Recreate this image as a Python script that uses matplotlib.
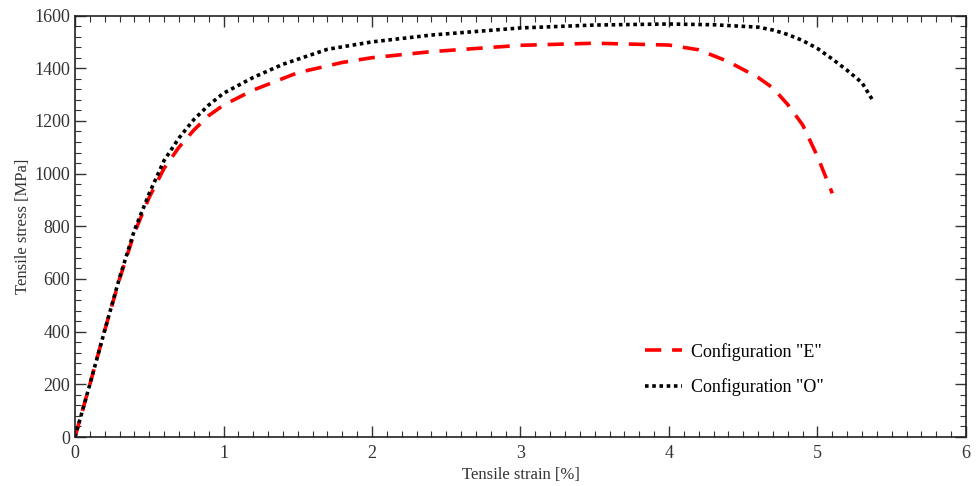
import matplotlib
matplotlib.use('Agg')
import matplotlib.pyplot as plt
from matplotlib.ticker import MultipleLocator

plt.rcParams['font.family'] = 'Liberation Serif'

# Configuration "E"
strain_e = [0, 0.1, 0.2, 0.3, 0.4, 0.5, 0.6, 0.7, 0.8, 0.9, 1.0, 1.2, 1.5, 1.8,
            2.0, 2.4, 3.0, 3.5, 4.0, 4.2, 4.4, 4.6, 4.7, 4.8, 4.9, 5.0, 5.1]
stress_e = [0, 200, 405, 600, 775, 910, 1020, 1100, 1165, 1220, 1260, 1317, 1383, 1422,
            1440, 1463, 1487, 1495, 1488, 1470, 1425, 1365, 1325, 1262, 1185, 1065, 925]

# Configuration "O"
strain_o = [0, 0.1, 0.2, 0.3, 0.4, 0.5, 0.6, 0.7, 0.8, 0.9, 1.0, 1.2, 1.4, 1.7,
            2.0, 2.4, 3.0, 3.5, 4.0, 4.3, 4.6, 4.7, 4.8, 4.9, 5.0, 5.1, 5.2, 5.3, 5.37]
stress_o = [0, 200, 405, 605, 785, 925, 1050, 1135, 1205, 1260, 1305, 1365, 1415, 1472,
            1500, 1526, 1553, 1564, 1568, 1565, 1556, 1545, 1528, 1505, 1475, 1435,
            1392, 1345, 1280]

fig = plt.figure(figsize=(9.78, 4.86), dpi=100)
ax = fig.add_axes([0.0767, 0.1008, 0.911, 0.8672])

ax.plot(strain_e, stress_e, c='red', lw=2.6, ls=(0, (4.5, 3)), label='Configuration "E"')
ax.plot(strain_o, stress_o, c='black', lw=2.6, ls=(0, (1, 1)), label='Configuration "O"')

ax.set_xlim(0, 6)
ax.set_ylim(0, 1600)
ax.xaxis.set_major_locator(MultipleLocator(1))
ax.xaxis.set_minor_locator(MultipleLocator(0.1))
ax.yaxis.set_major_locator(MultipleLocator(200))
ax.yaxis.set_minor_locator(MultipleLocator(40))
ax.tick_params(which='both', direction='in', top=True, right=True,
               colors='#333333', labelsize=13)
ax.tick_params(which='major', length=8, width=1)
ax.tick_params(which='minor', length=4, width=0.8)
ax.tick_params(axis='x', which='major', pad=6)
for s in ax.spines.values():
    s.set_color('#222222')
    s.set_linewidth(1.2)

ax.set_xlabel('Tensile strain [%]', fontsize=12, color='#333333', labelpad=3)
ax.set_ylabel('Tensile stress [MPa]', fontsize=12, color='#333333', labelpad=2)

ax.legend(loc='center left', bbox_to_anchor=(0.622, 0.16), frameon=False,
          fontsize=13, handlelength=2.0, labelspacing=1.0, handletextpad=0.5)

fig.savefig('out.png', dpi=100)
